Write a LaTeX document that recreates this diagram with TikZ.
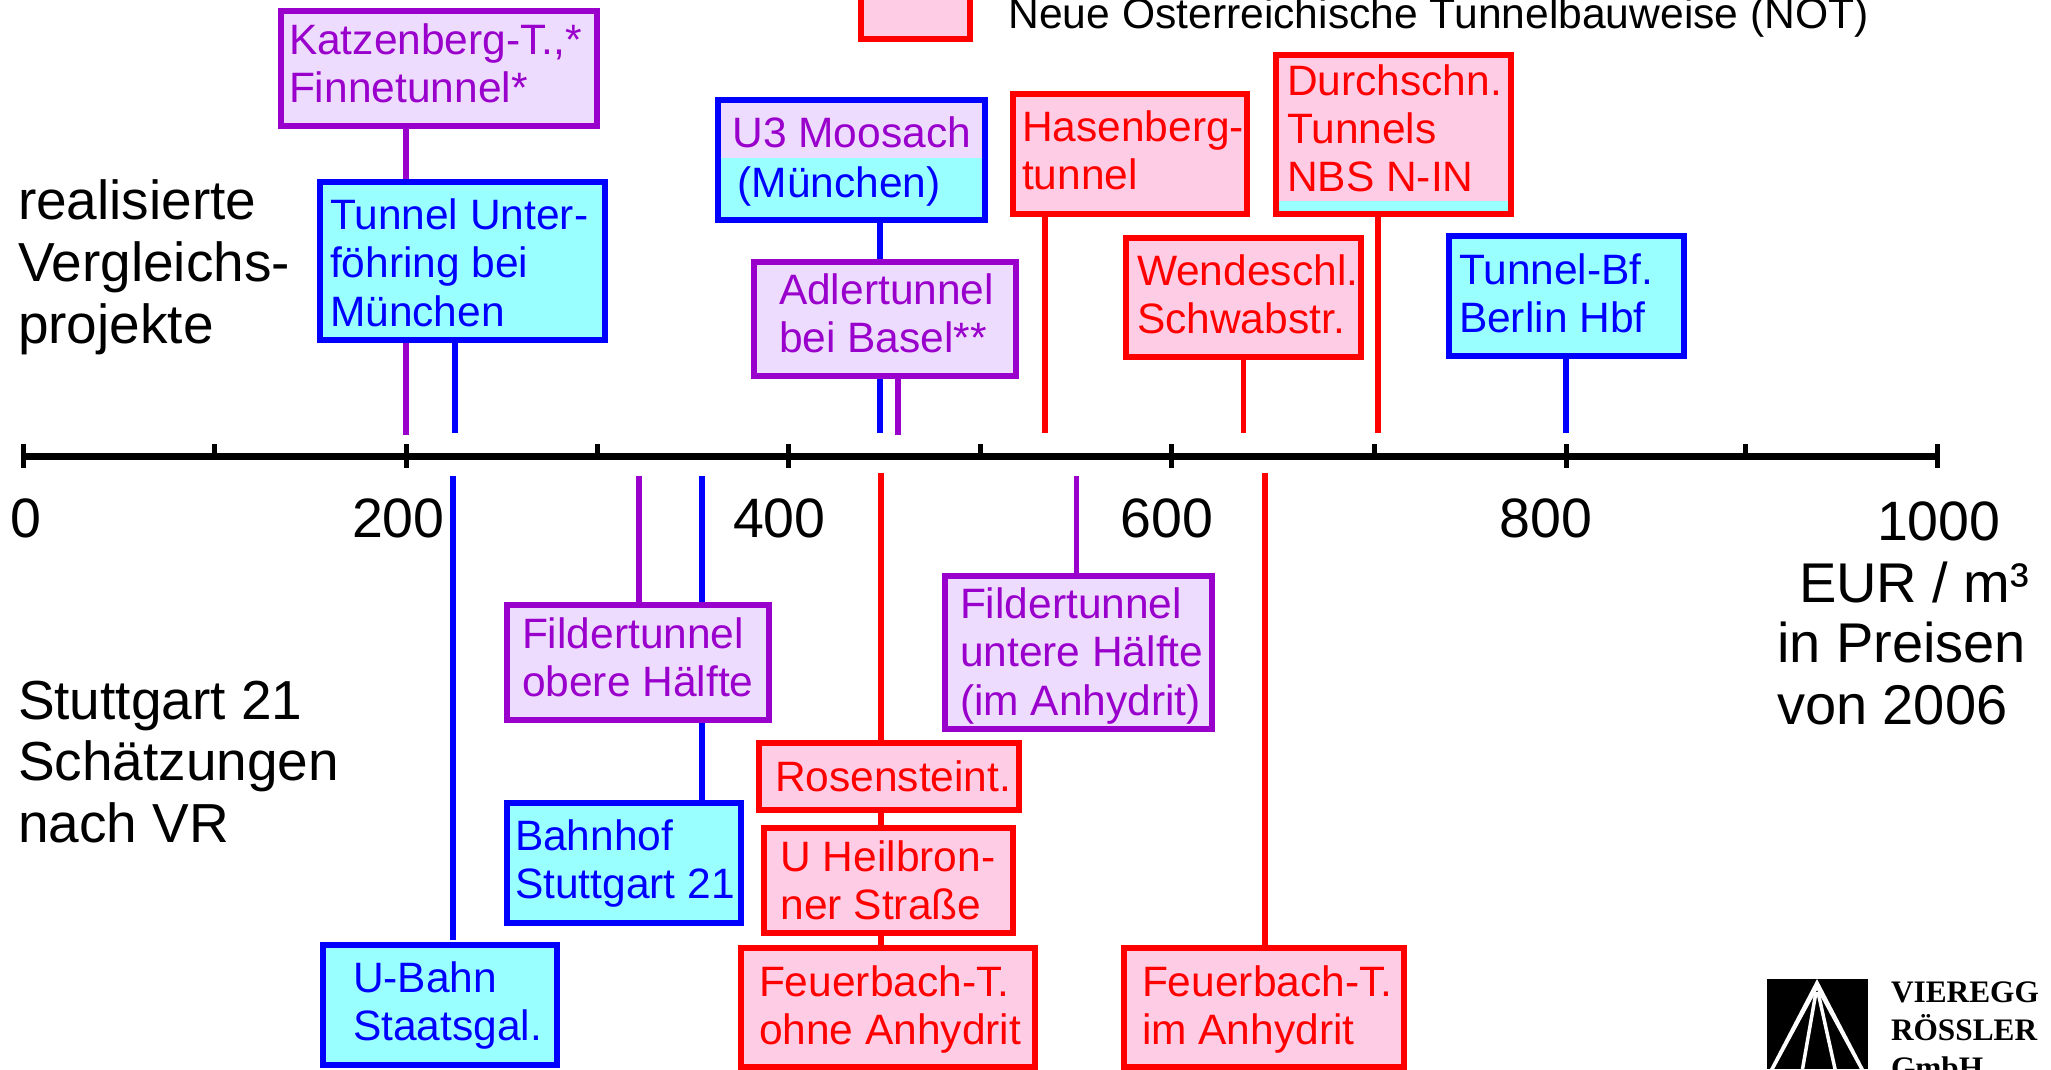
\documentclass[tikz,border=0pt]{standalone}
\usetikzlibrary{calc}
\usepackage{fontspec}
\setmainfont{Liberation Sans}
\newfontfamily\logofont{Liberation Serif}
\definecolor{pur}{HTML}{9900CC}
\definecolor{blu}{HTML}{0000FF}
\definecolor{rd}{HTML}{FF0000}
\definecolor{lav}{HTML}{EEDCFF}
\definecolor{cyn}{HTML}{99FFFF}
\definecolor{pnk}{HTML}{FFCCE6}
\tikzset{
  purbox/.style={draw=pur,fill=lav,line width=6bp},
  blubox/.style={draw=blu,fill=cyn,line width=6bp},
  redbox/.style={draw=rd,fill=pnk,line width=6bp},
  pline/.style={draw=pur,line width=5.5bp},
  bline/.style={draw=blu,line width=5.5bp},
  rline/.style={draw=rd,line width=5.5bp},
  axisline/.style={draw=black,line width=7bp},
  tickline/.style={draw=black,line width=5bp},
  txt/.style={inner sep=0pt,outer sep=0pt,anchor=base west},
  purtxt/.style={txt,text=pur},
  blutxt/.style={txt,text=blu},
  redtxt/.style={txt,text=rd},
  blktxt/.style={txt,text=black},
}
% box: name, x0, y0, x1, y1, style
\newcommand\mkbox[6]{%
  \pgfmathsetmacro\cxx{(#2+#4)/2}\pgfmathsetmacro\cyy{(#3+#5)/2}%
  \pgfmathsetmacro\ww{#4-#2-6}\pgfmathsetmacro\hh{#5-#3-6}%
  \node[#6,inner sep=0pt,minimum width=\ww bp,minimum height=\hh bp] (#1) at (\cxx,\cyy) {};}
\newcommand\lbl[1]{\fontsize{42.5bp}{48.3bp}\selectfont\begin{tabular}[t]{@{}l@{}}#1\end{tabular}}
\newcommand\biglbl[1]{\fontsize{55bp}{61.8bp}\selectfont\begin{tabular}[t]{@{}l@{}}#1\end{tabular}}
\newcommand\bigrgt[1]{\fontsize{56bp}{61.8bp}\selectfont\begin{tabular}[t]{@{}l@{}}#1\end{tabular}}
\newcommand\num[1]{\fontsize{55.5bp}{61.5bp}\selectfont #1}
\begin{document}
\begin{tikzpicture}[x=1bp,y=-1bp]
\useasboundingbox (0,0) rectangle (2051,1069);
\clip (0,0) rectangle (2051,1069);
\fill[white] (0,0) rectangle (2051,1069);
% boxes
\mkbox{legend}{858}{-20}{973}{42}{redbox}
\mkbox{kat}{278}{8}{600}{129}{purbox}
\mkbox{unter}{317}{179}{608}{343}{blubox}
\mkbox{moos}{715}{97}{988}{223}{blubox}
\fill[lav] (721,103) rectangle (982,158);
\mkbox{adler}{751}{259}{1019}{379}{purbox}
\mkbox{hasen}{1010}{91}{1250}{217}{redbox}
\mkbox{durch}{1273}{52}{1514}{217}{redbox}
\fill[cyn] (1279,200.5) rectangle (1508,211);
\mkbox{wende}{1123}{235}{1364}{360}{redbox}
\mkbox{bfbln}{1446}{233}{1687}{359}{blubox}
\mkbox{fobr}{504}{602}{772}{723}{purbox}
\mkbox{fupt}{942}{573}{1215}{732}{purbox}
\mkbox{bhf}{504}{800}{744}{926}{blubox}
\mkbox{ubahn}{320}{942}{560}{1068}{blubox}
\mkbox{rosen}{756}{740}{1022}{813}{redbox}
\mkbox{heil}{761}{825}{1016}{936}{redbox}
\mkbox{fohne}{738}{945}{1037.5}{1070}{redbox}
\mkbox{fim}{1121}{945}{1407}{1070}{redbox}
% axis anchors
\coordinate (a0) at (23,456);
\coordinate (a1) at (214,456);
\coordinate (a2) at (406,456);
\coordinate (a3) at (597,456);
\coordinate (a4) at (788,456);
\coordinate (a5) at (980,456);
\coordinate (a6) at (1171,456);
\coordinate (a7) at (1374,456);
\coordinate (a8) at (1566,456);
\coordinate (a9) at (1745,456);
\coordinate (a10) at (1937,456);
\draw[axisline] (20.5,456) -- (1939.5,456);
\foreach \t in {a0,a2,a4,a6,a8,a10} \draw[tickline] ($(\t)+(0,-12)$) -- ($(\t)+(0,12)$);
\foreach \t in {a1,a3,a5,a7,a9} \draw[tickline] ($(\t)+(0,-12)$) -- (\t);
% free ends of the connectors
\coordinate (uK) at (406,435);
\coordinate (uU) at (455,433);
\coordinate (uM) at (880,433);
\coordinate (uA) at (898,435);
\coordinate (uH) at (1045,433);
\coordinate (uW) at (1243.5,433);
\coordinate (uD) at (1378,433);
\coordinate (uB) at (1566,433);
\coordinate (dS) at (453,476);
\coordinate (dE) at (453,940);
\coordinate (dF) at (639,476);
\coordinate (dB) at (702,476);
\coordinate (dR) at (881,473);
\coordinate (dU) at (1076.5,476);
\coordinate (dI) at (1265,473);
% upper connectors
\draw[pline] (kat.south -| uK) -- (unter.north -| uK);
\draw[pline] (unter.south -| uK) -- (uK);
\draw[bline] (unter.south -| uU) -- (uU);
\draw[bline] (moos.south -| uM) -- (adler.north -| uM);
\draw[bline] (adler.south -| uM) -- (uM);
\draw[pline] (adler.south -| uA) -- (uA);
\draw[rline] (hasen.south -| uH) -- (uH);
\draw[rline] (wende.south -| uW) -- (uW);
\draw[rline] (durch.south -| uD) -- (uD);
\draw[bline] (bfbln.south -| uB) -- (uB);
% lower connectors
\draw[bline] (dS) -- (dE);
\draw[pline] (dF) -- (fobr.north -| dF);
\draw[bline] (dB) -- (fobr.north -| dB);
\draw[bline] (fobr.south -| dB) -- (bhf.north -| dB);
\draw[rline] (dR) -- (rosen.north -| dR);
\draw[rline] (rosen.south -| dR) -- (heil.north -| dR);
\draw[rline] (heil.south -| dR) -- (fohne.north -| dR);
\draw[pline] (dU) -- (fupt.north -| dU);
\draw[rline] (dI) -- (fim.north -| dI);
% box texts
\node[blktxt] (tleg) at (1008.5,28) {\fontsize{42.6bp}{48bp}\selectfont Neue Österreichische Tunnelbauweise (NOT)};
\node[purtxt] (tkat) at (289,54) {\lbl{Katzenberg-T.,*\\Finnetunnel*}};
\node[blutxt] (tunt) at (330,229.5) {\lbl{Tunnel Unter-\\föhring bei\\München}};
\node[purtxt] (tm1) at (732.5,147.5) {\lbl{U3 Moosach}};
\node[blutxt] (tm2) at (737.5,197) {\lbl{(München)}};
\node[purtxt] (tadl) at (779,304.5) {\lbl{Adlertunnel\\bei Basel**}};
\node[redtxt] (thas) at (1022,141.5) {\lbl{Hasenberg-\\tunnel}};
\node[redtxt] (tdur) at (1287,95) {\lbl{Durchschn.\\Tunnels\\NBS N-IN}};
\node[redtxt] (twen) at (1137,285) {\lbl{Wendeschl.\\Schwabstr.}};
\node[blutxt] (tbfb) at (1459,284) {\lbl{Tunnel-Bf.\\Berlin Hbf}};
\node[purtxt] (tfob) at (522,648) {\lbl{Fildertunnel\\obere Hälfte}};
\node[purtxt] (tfup) at (960,618.5) {\lbl{Fildertunnel\\untere Hälfte\\(im Anhydrit)}};
\node[blutxt] (tbhf) at (515,850.5) {\lbl{Bahnhof\\Stuttgart 21}};
\node[blutxt] (tuba) at (353,992.5) {\lbl{U-Bahn\\Staatsgal.}};
\node[redtxt] (tros) at (775,791) {\lbl{Rosensteint.}};
\node[redtxt] (thei) at (780.5,871) {\lbl{U Heilbron-\\ner Straße}};
\node[redtxt] (tfoh) at (759,996) {\lbl{Feuerbach-T.\\ohne Anhydrit}};
\node[redtxt] (tfim) at (1142,996) {\lbl{Feuerbach-T.\\im Anhydrit}};
% side texts
\node[blktxt] (tre) at (18,219.5) {\biglbl{realisierte\\Vergleichs-\\projekte}};
\node[blktxt] (tst) at (18,719) {\biglbl{Stuttgart 21\\Schätzungen\\nach VR}};
\node[blktxt] (teu) at (1799,602) {\bigrgt{EUR / m³}};
\node[blktxt] (tpr) at (1777,662.5) {\bigrgt{in Preisen\\von 2006}};
% numbers
\node[blktxt] (n0) at (10,537) {\num{0}};
\node[blktxt] (n200) at (352,537) {\num{200}};
\node[blktxt] (n400) at (733,537) {\num{400}};
\node[blktxt] (n600) at (1120.5,537) {\num{600}};
\node[blktxt] (n800) at (1499.5,537) {\num{800}};
\node[blktxt] (n1000) at (1877,540) {\num{1000}};
% logo
\fill[black] (1767,979) rectangle (1868,1069);
\fill[white] (1817,979) -- (1768.5,1072) -- (1772.5,1072) -- (1817,990) -- (1861.5,1072) -- (1865.5,1072) -- cycle;
\draw[white,line width=3.5bp] (1816,992) -- (1802,1072);
\draw[white,line width=3.5bp] (1818,992) -- (1835.7,1072);
\node[txt] (tlogo) at (1891,1002) {\logofont\bfseries\fontsize{31.3bp}{38bp}\selectfont\begin{tabular}[t]{@{}l@{}}VIEREGG\\RÖSSLER\\GmbH\end{tabular}};
\end{tikzpicture}
\end{document}
